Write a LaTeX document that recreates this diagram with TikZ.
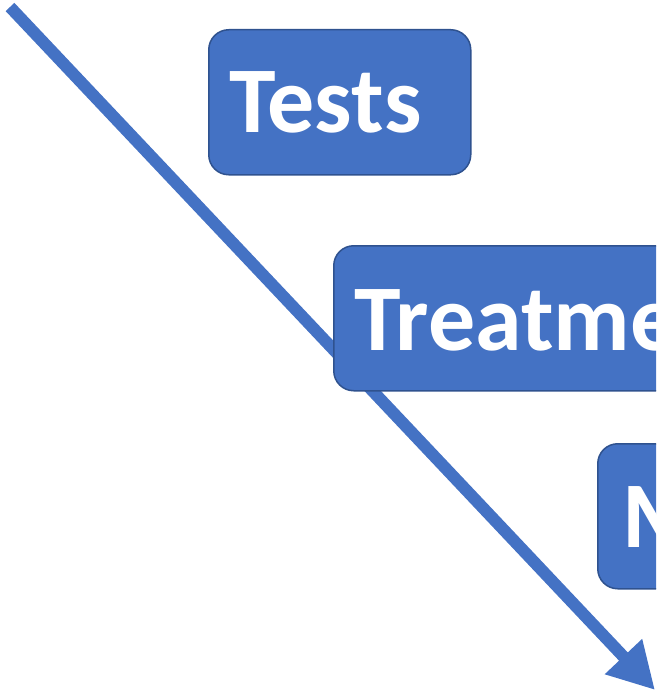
\documentclass[tikz,border=0pt]{standalone}
\usepackage{fontspec}
\setmainfont{Carlito}
\usetikzlibrary{arrows.meta}
\definecolor{boxblue}{HTML}{4472C4}
\definecolor{boxline}{HTML}{2F528F}
\begin{document}
\begin{tikzpicture}[x=1pt,y=-1pt]
	\tikzset{stage/.style={draw=boxline,fill=boxblue,line width=1.5pt,rounded corners=20pt,anchor=north west,inner sep=0pt},
		label/.style={anchor=base west,inner sep=0pt,text=white,font=\fontsize{94}{100}\selectfont\bfseries}}
	
	\useasboundingbox (0,0) rectangle (656,693);
	\clip (0,0) rectangle (656,693);
	
	% the diagonal arrow behind the boxes
	\coordinate (start) at (10,7);
	\coordinate (tip) at (655,690);
	\draw[boxblue, line width=12pt, -{Triangle[length=46pt,width=48pt]}] (start) -- (tip);
	
	\node[stage, minimum width=262pt, minimum height=145pt] (tests) at (208,29) {};
	\node[stage, minimum width=360pt, minimum height=145pt] (treat) at (333,245) {};
	\node[stage, minimum width=120pt, minimum height=145pt] (mon) at (597,443) {};
	
	\node[label] (testsl) at (229,132) {Tests};
	\node[label] (treatl) at (354,350) {Treatme};
	\node[label] (monl) at (622,547) {M};
	
\end{tikzpicture}
\end{document}
